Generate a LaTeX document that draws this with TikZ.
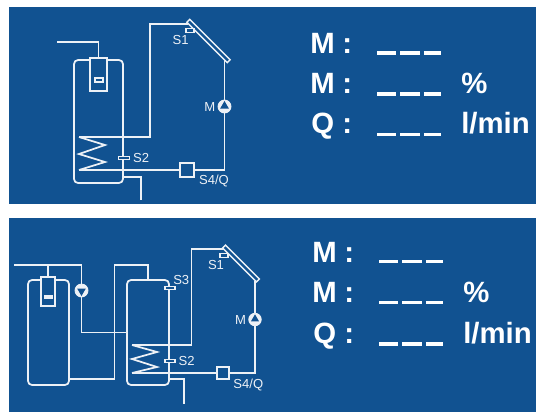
\documentclass[tikz,border=0pt]{standalone}
\usepackage{fontspec}
\setmainfont{Liberation Sans}
\usetikzlibrary{shapes.geometric, positioning}
\definecolor{panelblue}{HTML}{115291}
\definecolor{pipewhite}{HTML}{EDF1F6}
\newcommand{\px}{0.75pt}

\begin{document}
\begin{tikzpicture}[
    x=0.75pt, y=-0.75pt,
    node distance=2pt and 2pt,
    pipe/.style={draw=pipewhite, line width=1.3pt},
    panel/.style={rectangle, fill=panelblue, draw=none, anchor=north west, inner sep=0pt, minimum width=527*\px},
    tank/.style 2 args={rectangle, draw=pipewhite, line width=1.3pt, rounded corners=3pt, inner sep=0pt, minimum width=#1*\px, minimum height=#2*\px},
    exchanger/.style 2 args={rectangle, draw=pipewhite, line width=1.3pt, inner sep=0pt, minimum width=#1*\px, minimum height=#2*\px},
    sensor/.style={rectangle, draw=pipewhite, line width=1pt, fill=panelblue, inner sep=0pt, minimum width=10*\px, minimum height=3.5*\px},
    meter/.style={rectangle, draw=pipewhite, line width=1.3pt, fill=panelblue, inner sep=0pt, minimum size=14*\px},
    collector/.style={rectangle, draw=pipewhite, line width=1.1pt, fill=panelblue, inner sep=0pt, minimum height=4*\px, rotate=-45},
    pump/.style={isosceles triangle, isosceles triangle apex angle=60, shape border rotate=90, fill=panelblue, inner sep=0pt, minimum height=7.5*\px},
    ring/.style={circle, draw=pipewhite, fill=pipewhite, line width=0.6pt, inner sep=0pt},
    tag/.style={text=pipewhite, inner sep=0pt, font=\fontsize{9.8pt}{11pt}\selectfont},
    big/.style={text=white, inner sep=0pt, anchor=base west, font=\fontsize{22pt}{24pt}\selectfont\bfseries},
    blank/.style={draw=white, line width=2.6pt, dash pattern=on 14.5pt off 3.1pt}
]

% Backgrounds
\useasboundingbox (0,0) rectangle (536,412);
\node[panel, minimum height=197*\px] (top) at (9,7) {};
\node[panel, minimum height=194*\px] (bottom) at (9,218) {};

% Top schematic
\node[tank={49}{123}] (store) at (98.5,121.5) {};
\node[exchanger={17}{33}, fill=panelblue] (boiler) at (98.5,74.5) {};
\node[exchanger={8}{3.5}] (boilerbar) at (99,80) {};
\node[meter] (flow) at (187,170) {};
\node[ring, minimum size=13*\px] (pumpring) at (224.5,106.5) {};
\node[pump] (pumphead) at (224.5,106) {};

\coordinate (feed) at (57,42);
\coordinate (drain) at (141,200);
\coordinate (coiltop) at (79,137);
\coordinate (coilend) at (79,170);
\coordinate (rise) at (150,137);
\coordinate (solarin) at (188,24);
\coordinate (solarout) at (224.5,60);

\draw[pipe] (feed) -| (boiler.north);
\draw[pipe] (coiltop) -- (105,145) -- (79,154) -- (105,162) -- (coilend);
\draw[pipe] (coiltop) -- (rise) |- (solarin);
\draw[pipe] (coilend) -- (flow.west);
\draw[pipe] (flow.east) -| (pumpring.south);
\draw[pipe] (pumpring.north) -- (solarout);
\draw[pipe] (123,177) -| (drain);

\node[collector, minimum width=57*\px] (solar) at (208.5,41) {};
\node[sensor, minimum width=8*\px] (probesolar) at (190,30.5) {};
\node[sensor, minimum width=11*\px] (probe) at (124,158) {};
\node[tag, below=1.5pt of probesolar.south, xshift=-7pt] (s1) {S1};
\node[tag, right=2pt of probe] (s2) {S2};
\node[tag, right=3pt of flow.south east, yshift=-2.5pt] (s4) {S4/Q};
\node[tag, left=1.5pt of pumpring] (m) {M};

% Bottom schematic
\node[tank={41}{105}] (storeb) at (48.5,332.5) {};
\node[exchanger={14}{29}, fill=panelblue] (boilerb) at (48,291.5) {};
\node[exchanger={8}{2.5}, fill=pipewhite] (boilerbarb) at (48.5,297) {};
\node[tank={42}{105}] (storec) at (148,332.5) {};
\node[meter, minimum size=12*\px] (flowb) at (223,373) {};
\node[ring, minimum size=12.5*\px] (pumpringb) at (255,319.5) {};
\node[pump, minimum height=7*\px] (pumpheadb) at (255,319) {};
\node[ring, minimum size=13*\px] (pumpringc) at (81.5,290.5) {};
\node[pump, shape border rotate=270] (pumpheadc) at (81.5,291) {};

\coordinate (feedb) at (14,265);
\coordinate (tee) at (81.5,265);
\coordinate (drainb) at (184,404);
\coordinate (coiltopb) at (132,345);
\coordinate (coilendb) at (132,373);
\coordinate (riseb) at (191.5,345);
\coordinate (solarinb) at (224,249);
\coordinate (solaroutb) at (255,281);
\coordinate (ret) at (114.5,379);

\draw[pipe] (feedb) -- (tee) -- (pumpringc.north);
\draw[pipe] (boilerb.north) -- (boilerb.north |- feedb);
\draw[pipe] (pumpringc.south) |- (storec.west);
\draw[pipe] (storeb.east |- ret) -- (ret) |- (148,265) -- (storec.north);
\draw[pipe] (coiltopb) -- (157,352) -- (132,359) -- (157,367) -- (coilendb);
\draw[pipe] (coiltopb) -- (riseb) |- (solarinb);
\draw[pipe] (coilendb) -- (flowb.west);
\draw[pipe] (flowb.east) -| (pumpringb.south);
\draw[pipe] (pumpringb.north) -- (solaroutb);
\draw[pipe] (168,379) -| (drainb);

\node[collector, minimum width=48*\px] (solarb) at (241,263.5) {};
\node[sensor] (probeb) at (170,288) {};
\node[sensor] (probec) at (170,361) {};
\node[sensor, minimum width=8*\px] (probesolarb) at (224,255.5) {};

\node[tag, below=1.5pt of probesolarb.south, xshift=-6pt] (s1b) {S1};
\node[tag, right=-2pt of probeb, yshift=6pt] (s3b) {S3};
\node[tag, right=2pt of probec] (s2b) {S2};
\node[tag, right=2.5pt of flowb.south east, yshift=-3.5pt] (s4b) {S4/Q};
\node[tag, left=1.5pt of pumpringb] (mb) {M};

% Readouts top
\node[big] (ma) at (310,53) {M};
\node[big] (mc) at (342,53) {:};
\node[big] (na) at (310,93.5) {M};
\node[big] (nc) at (342,93.5) {:};
\node[big] (qa) at (311,133) {Q};
\node[big] (qc) at (342,133) {:};
\node[big] (pa) at (461,93.5) {\%};
\node[big] (la) at (461,133) {l/min};
\coordinate (ba1) at (377,53);
\coordinate (ba2) at (377,94);
\coordinate (ba3) at (377,134.5);
\draw[blank] (ba1) -- ++(64,0);
\draw[blank] (ba2) -- ++(64,0);
\draw[blank] (ba3) -- ++(64,0);

% Readouts bottom
\node[big] (mb1) at (312,262) {M};
\node[big] (mc1) at (344,262) {:};
\node[big] (nb1) at (312,302) {M};
\node[big] (nc1) at (344,302) {:};
\node[big] (qb1) at (313,343) {Q};
\node[big] (qc1) at (344,343) {:};
\node[big] (pb1) at (463,302) {\%};
\node[big] (lb1) at (463,343) {l/min};
\coordinate (bb1) at (379,261.5);
\coordinate (bb2) at (379,302.5);
\coordinate (bb3) at (379,344);
\draw[blank] (bb1) -- ++(64,0);
\draw[blank] (bb2) -- ++(64,0);
\draw[blank] (bb3) -- ++(64,0);
\end{tikzpicture}
\end{document}
